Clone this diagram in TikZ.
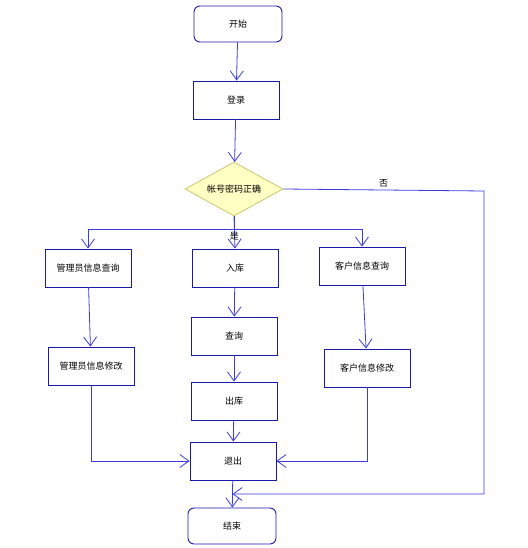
\documentclass[tikz,border=0pt]{standalone}
\usepackage{fontspec}
\newfontfamily\cjk{Noto Sans CJK SC}
\usepackage{xcolor}
\usetikzlibrary{arrows.meta,positioning,calc,shapes}

\definecolor{boxblue}{HTML}{1A1AA8}
\definecolor{lineblue}{HTML}{3C3CDC}
\definecolor{judgefill}{HTML}{FFFFC4}
\definecolor{judgeline}{HTML}{C8C870}

\begin{document}
\begin{tikzpicture}[
    x=1pt, y=-1pt,
    every node/.style={font=\cjk\fontsize{9}{10}\selectfont},
    box/.style={rectangle, draw=boxblue, line width=0.9pt, minimum width=86pt, minimum height=38pt},
    term/.style={box, rounded corners=6pt, minimum width=88pt, minimum height=36pt},
    judge/.style={diamond, draw=judgeline, fill=judgefill, line width=0.8pt, inner sep=0pt, aspect=1.8, minimum width=98pt, minimum height=54pt},
    flow/.style={draw=lineblue, line width=0.8pt, -{Straight Barb[length=9pt,width=13pt]}},
]
    \useasboundingbox (0,0) rectangle (527,548);

    % Top: start, login, check
    \node[term] (start) at (238,24) {开始};
    \node[box] (login) at (236,100) {登录};
    \node[judge] (check) at (234,189) {帐号密码正确};

    % Left column: admin
    \node[box] (adminq) at (88,268) {管理员信息查询};
    \node[box] (adminm) at (91,366) {管理员信息修改};

    % Middle column: stock
    \node[box] (stockin) at (235,268) {入库};
    \node[box] (query) at (234,336) {查询};
    \node[box] (stockout) at (234,401) {出库};
    \node[box] (quit) at (233,461) {退出};
    \node[term] (finish) at (232,526) {结束};

    % Right column: customer
    \node[box] (custq) at (362,266) {客户信息查询};
    \node[box] (custm) at (367,368) {客户信息修改};

    % Helper points for the "no" branch
    \coordinate (nocorner) at (484,191);
    \coordinate (nojoin) at ($(quit.south)!0.5!(finish.north)$);

    % Edges
    \draw[flow] (start) -- (login);
    \draw[flow] (login) -- (check);
    \draw[flow] (check.south) -- node[pos=0.4, below=-1pt] {是} (stockin.north);
    \draw[flow] (check.south) -- ++(0,13) -| (adminq.north);
    \draw[flow] (check.south) -- ++(0,13) -| (custq.north);
    \draw[flow] (adminq) -- (adminm);
    \draw[flow] (custq) -- (custm);
    \draw[flow] (stockin) -- (query);
    \draw[flow] (query) -- (stockout);
    \draw[flow] (stockout) -- (quit);
    \draw[flow] (quit) -- (finish);
    \draw[flow] (adminm.south) |- (quit.west);
    \draw[flow] (custm.south) |- (quit.east);
    \draw[flow] (check.east) -- node[pos=0.5, above=-1pt] {否} (nocorner) |- (nojoin);
\end{tikzpicture}
\end{document}
